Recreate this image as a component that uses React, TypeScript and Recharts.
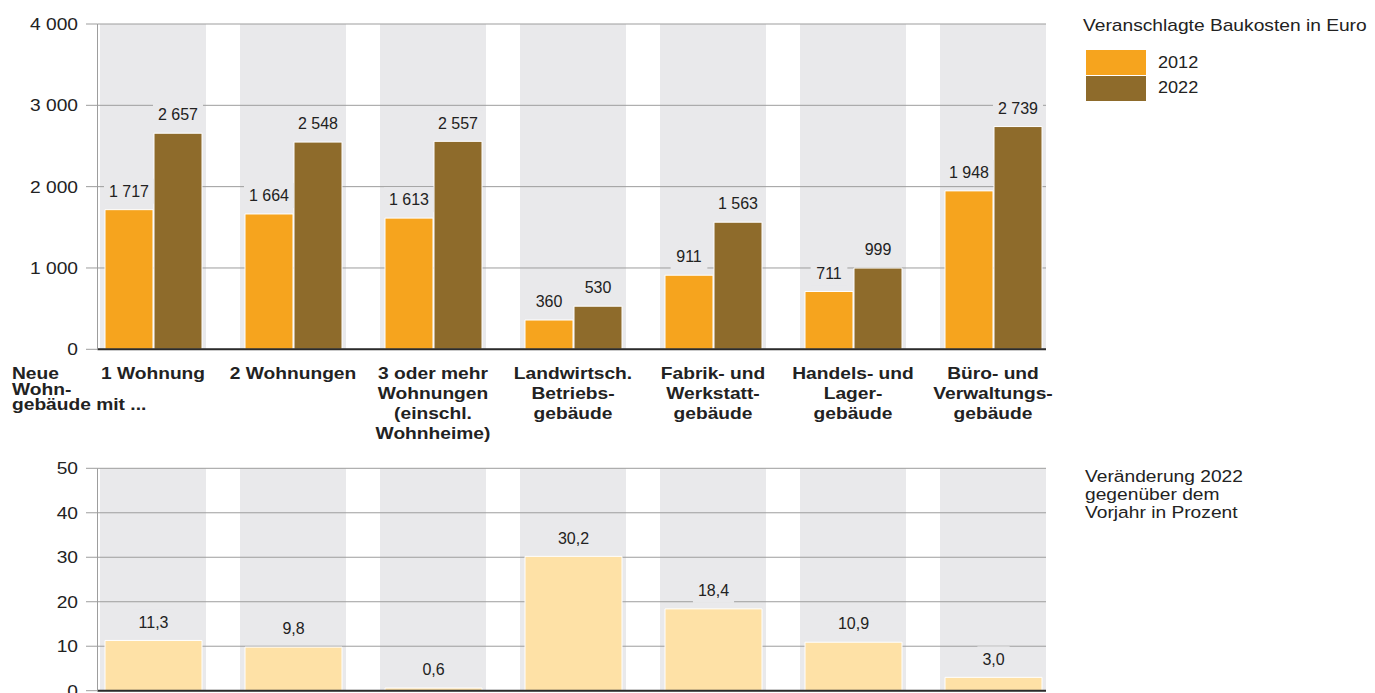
import { BarChart, Bar, XAxis, YAxis, CartesianGrid, LabelList, Legend } from 'recharts';

const FONT = '"Liberation Sans", Arial, Helvetica, sans-serif';
const TEXT = '#222';
const ORANGE = '#f6a41e';
const BROWN = '#8e6b2b';
const LIGHT = '#fee1a6';
const BAND = '#e9e9eb';
const GRID = '#9d9d9d';
const BASE = '#2b2b2b';

// categories, line breaks as in the printed labels
const categories = [
  '1 Wohnung',
  '2 Wohnungen',
  '3 oder mehr\nWohnungen\n(einschl.\nWohnheime)',
  'Landwirtsch.\nBetriebs-\ngebäude',
  'Fabrik- und\nWerkstatt-\ngebäude',
  'Handels- und\nLager-\ngebäude',
  'Büro- und\nVerwaltungs-\ngebäude',
];
const costs2012 = [1717, 1664, 1613, 360, 911, 711, 1948];
const costs2022 = [2657, 2548, 2557, 530, 1563, 999, 2739];
const change2022 = [11.3, 9.8, 0.6, 30.2, 18.4, 10.9, 3.0];
const costTicks = [0, 1000, 2000, 3000, 4000];
const changeTicks = [0, 10, 20, 30, 40, 50];
const groupLabel = ['Neue', 'Wohn-', 'gebäude mit ...'];

const COST_MAX = costTicks[costTicks.length - 1];
const CHANGE_MAX = changeTicks[changeTicks.length - 1];

const costData = categories.map((cat, i) => ({
  cat,
  y2012: costs2012[i],
  y2022: costs2022[i],
  band: COST_MAX,
}));
const changeData = categories.map((cat, i) => ({
  cat,
  change: change2022[i],
  band: CHANGE_MAX,
}));

// slots of 140px, grey band of 106px in each
const PAD = { left: -14.5, right: -17 };

const fmtThousands = (v: number) => String(v).replace(/\B(?=(\d{3})+(?!\d))/g, ' ');
const fmtDecimal = (v: number) => v.toFixed(1).replace('.', ',');

function textWidth(s: string, size: number) {
  let w = 0;
  for (const ch of s) w += /[0-9]/.test(ch) ? 0.556 : 0.278;
  return w * size;
}

function YTick(props: any) {
  const { x, y, payload, fmt } = props;
  return (
    <text
      transform={`translate(${x},${y}) scale(1.13,1)`}
      textAnchor="end"
      dy="0.36em"
      fontSize={17}
      fontFamily={FONT}
      fill={TEXT}
    >
      {fmt(payload.value)}
    </text>
  );
}

function CatTick(props: any) {
  const { x, y, payload } = props;
  const lines = String(payload.value).split('\n');
  return (
    <g transform={`translate(${x},${y})`}>
      {lines.map((l, i) => (
        <text
          key={i}
          transform={`translate(0,${29.7 + i * 20}) scale(1.2,1)`}
          textAnchor="middle"
          fontSize={16}
          fontWeight="bold"
          fontFamily={FONT}
          fill={TEXT}
        >
          {l}
        </text>
      ))}
    </g>
  );
}

function ValueLabel(props: any) {
  const vb = props.viewBox ?? props;
  const { fmt, value } = props;
  if (vb == null || value == null) return null;
  const text = fmt(Number(value));
  const cx = vb.x + vb.width / 2;
  const cy = vb.y - 18.5;
  const w = textWidth(text, 16) + 10;
  return (
    <g>
      <rect x={cx - w / 2} y={cy - 12.5} width={w} height={25} fill={BAND} />
      <text
        x={cx}
        y={cy}
        dy="0.36em"
        textAnchor="middle"
        fontSize={16}
        fontFamily={FONT}
        fill={TEXT}
      >
        {text}
      </text>
    </g>
  );
}

function CostLegend({ payload }: any) {
  const items = (payload ?? []).filter((p: any) => p.type !== 'none' && p.dataKey !== 'band');
  return (
    <svg width={295} height={110} style={{ display: 'block', overflow: 'visible' }}>
      <text transform="translate(3,30.7) scale(1.2,1)" fontSize={16} fontFamily={FONT} fill={TEXT}>
        Veranschlagte Baukosten in Euro
      </text>
      {items.map((it: any, i: number) => (
        <g key={i}>
          <rect x={6} y={50 + i * 26} width={60} height={25} fill={it.color} />
          <text
            transform={`translate(78,${68.3 + i * 25}) scale(1.13,1)`}
            fontSize={16}
            fontFamily={FONT}
            fill={TEXT}
          >
            {it.value}
          </text>
        </g>
      ))}
    </svg>
  );
}

function ChangeLegend() {
  const lines = ['Veränderung 2022', 'gegenüber dem', 'Vorjahr in Prozent'];
  return (
    <svg width={295} height={80} style={{ display: 'block', overflow: 'visible' }}>
      {lines.map((l, i) => (
        <text
          key={i}
          transform={`translate(5,${32.3 + i * 18}) scale(1.13,1)`}
          fontSize={17}
          fontFamily={FONT}
          fill={TEXT}
        >
          {l}
        </text>
      ))}
    </svg>
  );
}

export default function App() {
  return (
    <div
      style={{
        position: 'absolute',
        left: 0,
        top: 0,
        width: 1375,
        height: 693,
        overflow: 'hidden',
        background: '#fff',
        fontFamily: FONT,
      }}
    >
      <div style={{ position: 'absolute', left: 0, top: 0 }}>
        <BarChart
          width={1375}
          height={450}
          data={costData}
          margin={{ top: 24, right: 329, bottom: 0.7, left: 0 }}
          barGap={1}
        >
          <Bar
            xAxisId="band"
            dataKey="band"
            fill={BAND}
            barSize={106}
            isAnimationActive={false}
            legendType="none"
            zIndex={-150}
          />
          <CartesianGrid vertical={false} stroke={GRID} />
          <XAxis xAxisId="band" dataKey="cat" hide padding={PAD} />
          <XAxis
            dataKey="cat"
            padding={PAD}
            height={100}
            interval={0}
            tickLine={false}
            tickSize={0}
            tickMargin={0}
            axisLine={{ stroke: BASE, strokeWidth: 2 }}
            tick={(p: any) => <CatTick {...p} />}
          />
          <YAxis
            width={97.5}
            domain={[0, COST_MAX]}
            ticks={costTicks}
            interval={0}
            tickSize={11.5}
            tickMargin={8}
            axisLine={{ stroke: GRID }}
            tickLine={{ stroke: GRID }}
            tick={(p: any) => <YTick {...p} fmt={fmtThousands} />}
          />
          <Bar dataKey="y2012" name="2012" fill={ORANGE} stroke="#fff" barSize={48} isAnimationActive={false}>
            <LabelList dataKey="y2012" content={(p: any) => <ValueLabel {...p} fmt={fmtThousands} />} />
          </Bar>
          <Bar dataKey="y2022" name="2022" fill={BROWN} stroke="#fff" barSize={48} isAnimationActive={false}>
            <LabelList dataKey="y2022" content={(p: any) => <ValueLabel {...p} fmt={fmtThousands} />} />
          </Bar>
          <Legend
            layout="horizontal"
            verticalAlign="middle"
            align="center"
            wrapperStyle={{ left: 1080, top: 0, width: 295, height: 110 }}
            content={(p: any) => <CostLegend {...p} />}
          />
        </BarChart>
        <svg
          width={160}
          height={450}
          style={{ position: 'absolute', left: 0, top: 0, pointerEvents: 'none' }}
        >
          {groupLabel.map((l, i) => (
            <text
              key={i}
              transform={`translate(12,${379 + i * 15.5}) scale(1.2,1)`}
              fontSize={16}
              fontWeight="bold"
              fontFamily={FONT}
              fill={TEXT}
            >
              {l}
            </text>
          ))}
        </svg>
      </div>

      <div style={{ position: 'absolute', left: 0, top: 450 }}>
        <BarChart
          width={1375}
          height={270}
          data={changeData}
          margin={{ top: 18.3, right: 329, bottom: 9.3, left: 0 }}
        >
          <Bar
            xAxisId="band"
            dataKey="band"
            fill={BAND}
            barSize={106}
            isAnimationActive={false}
            legendType="none"
            zIndex={-150}
          />
          <CartesianGrid vertical={false} stroke={GRID} />
          <XAxis xAxisId="band" dataKey="cat" hide padding={PAD} />
          <XAxis
            dataKey="cat"
            padding={PAD}
            height={20}
            tick={false}
            tickLine={false}
            axisLine={{ stroke: BASE, strokeWidth: 2 }}
          />
          <YAxis
            width={97.5}
            domain={[0, CHANGE_MAX]}
            ticks={changeTicks}
            interval={0}
            tickSize={11.5}
            tickMargin={8}
            axisLine={{ stroke: GRID }}
            tickLine={{ stroke: GRID }}
            tick={(p: any) => <YTick {...p} fmt={(v: number) => String(v)} />}
          />
          <Bar dataKey="change" name="Veränderung" fill={LIGHT} stroke="#fff" barSize={97} isAnimationActive={false}>
            <LabelList dataKey="change" content={(p: any) => <ValueLabel {...p} fmt={fmtDecimal} />} />
          </Bar>
          <Legend
            layout="horizontal"
            verticalAlign="middle"
            align="center"
            wrapperStyle={{ left: 1080, top: 0, width: 295, height: 80 }}
            content={() => <ChangeLegend />}
          />
        </BarChart>
      </div>
    </div>
  );
}
